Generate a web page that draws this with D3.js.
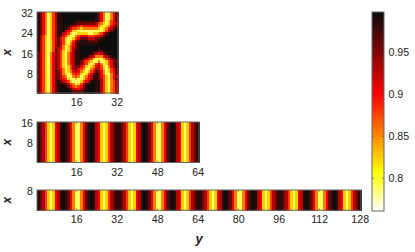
<!DOCTYPE html>
<html><head><meta charset="utf-8">
<script src="https://cdn.jsdelivr.net/npm/d3@7"></script>
<style>
html,body{margin:0;padding:0;background:#fff}
svg{display:block}
text{font-family:"Liberation Sans",Arial,sans-serif;fill:#222}
</style></head><body>
<svg id="c" width="415" height="252"></svg>
<script>
// Heat value of each encoded digit in the tables below
const levelValues = [0.997, 0.985, 0.96, 0.93, 0.905, 0.88, 0.855, 0.825, 0.79];

// 32 x 32 panel, top row is x = 32, bottom row is x = 1
const panel32 = [
"12468753110000000000000124688642",
"12468753110000000000000124688642",
"12468753110000000000000124688642",
"12468753110000011111111124687542",
"12468753110001112222222356787543",
"12468753110112334544444467876432",
"12468753110124556766666678764321",
"12468753111345778888888888753210",
"12468753113457887777887765321000",
"13578753124578865444555443210000",
"13578753245788754222333221100000",
"13578753235787532111222211000000",
"13578753235786421111111100000000",
"13578753246875421000000000000000",
"13578752346875321000000010000000",
"13578752357875311000001122100000",
"23578642357864311000012343210000",
"23578642357864311011234666432110",
"23578642357864311123457888754221",
"23578642357864311245678868875422",
"23578642357864311245787536875421",
"23578642357875322457876435786431",
"23578642346875324568865335787542",
"23578642246876434678754224687542",
"23578642246787545787542124688642",
"23578642235688656876431124578643",
"23578642234578878875431123578642",
"23578642123457888754310113578653",
"23578642111235687531100113578653",
"23578642100124565421000113578653",
"23578642100012344321000113578653",
"23578642100001222210000113578653"
];
// Stripe panels: one digit per y column, same in every x row
const stripes64 = "1235787431012468864210134787532112357874310124688642101347875321";
const stripes128 = "12357874310124688642101347875321123578743101246886421013478753211235787431012468864210134787532112357874310124688642101347875321";

const rows32 = 32, rows64 = 16, rows128 = 8;
const xTicks32 = [16, 32], yTicks32 = [8, 16, 24, 32];
const xTicks64 = [16, 32, 48, 64], yTicks64 = [8, 16];
const xTicks128 = [16, 32, 48, 64, 80, 96, 112, 128], yTicks128 = [8];
const barTicks = [0.8, 0.85, 0.9, 0.95];
const barDomain = [0.761, 0.9976];

const color = d3.scaleLinear()
  .domain([0.761, 0.808, 0.9, 0.9976])
  .range(["#ffffff", "#ffff00", "#ff0000", "#0c0c0c"])
  .clamp(true);

const svg = d3.select("#c");
const cell = 2.531, left = 37;
const frame = "#666";
const fs = "10.6px";

function panel(top, nCols, nRows, xt, yt, valueAt) {
  const w = nCols * cell, h = nRows * cell;
  const g = svg.append("g");
  const bx = d3.scaleBand().domain(d3.range(nCols)).range([left, left + w]);
  const by = d3.scaleBand().domain(d3.range(nRows)).range([top, top + h]);
  const cells = [];
  for (let r = 0; r < nRows; r++) for (let c = 0; c < nCols; c++) cells.push({r, c, v: valueAt(r, c)});
  g.selectAll("rect.cell").data(cells).join("rect").attr("class", "cell")
    .attr("x", d => bx(d.c)).attr("y", d => by(d.r))
    .attr("width", bx.bandwidth() + 0.6).attr("height", by.bandwidth() + 0.6)
    .attr("shape-rendering", "crispEdges")
    .attr("fill", d => color(d.v));
  const sx = d3.scaleLinear().domain([0.5, nCols + 0.5]).range([left, left + w]);
  const sy = d3.scaleLinear().domain([0.5, nRows + 0.5]).range([top + h, top]);
  const ax = g.append("g").attr("transform", `translate(0,${top + h})`)
    .call(d3.axisBottom(sx).tickValues(xt).tickSize(0).tickPadding(5.5));
  ax.select(".domain").remove();
  ax.selectAll("text").attr("font-size", fs).attr("fill", "#222");
  const ay = g.append("g").attr("transform", `translate(${left},0)`)
    .call(d3.axisLeft(sy).tickValues(yt).tickSize(0).tickPadding(4));
  ay.select(".domain").remove();
  ay.selectAll("text").attr("font-size", fs).attr("fill", "#222");
  // inward tick marks
  const tickCol = "#222";
  g.selectAll("line.tb").data(xt.flatMap(t => [[t, top + h, top + h - 2], [t, top, top + 2]])).join("line")
    .attr("class", "tb")
    .attr("x1", d => sx(d[0])).attr("x2", d => sx(d[0])).attr("y1", d => d[1]).attr("y2", d => d[2])
    .attr("stroke", tickCol).attr("stroke-width", 0.5);
  g.selectAll("line.lr").data(yt.flatMap(t => [[t, left, left + 2], [t, left + w, left + w - 2]])).join("line")
    .attr("class", "lr")
    .attr("y1", d => sy(d[0])).attr("y2", d => sy(d[0])).attr("x1", d => d[1]).attr("x2", d => d[2])
    .attr("stroke", tickCol).attr("stroke-width", 0.5);
  g.append("rect").attr("x", left).attr("y", top).attr("width", w).attr("height", h)
    .attr("fill", "none").attr("stroke", frame).attr("stroke-width", 1);
  svg.append("text").text("x")
    .attr("transform", `translate(11,${top + h / 2}) rotate(-90)`)
    .attr("text-anchor", "middle").attr("font-size", "12px")
    .attr("font-weight", "bold").attr("font-style", "italic").attr("fill", "#111");
}

panel(12, 32, rows32, xTicks32, yTicks32, (r, c) => levelValues[+panel32[r][c]]);
panel(122, 64, rows64, xTicks64, yTicks64, (r, c) => levelValues[+stripes64[c]]);
panel(190, 128, rows128, xTicks128, yTicks128, (r, c) => levelValues[+stripes128[c]]);

svg.append("text").text("y").attr("x", 199).attr("y", 243)
  .attr("text-anchor", "middle").attr("font-size", "13px")
  .attr("font-weight", "bold").attr("font-style", "italic").attr("fill", "#111");

// Colour bar
const barX = 372, barW = 12, barTop = 12, barBottom = 211;
const sb = d3.scaleLinear().domain(barDomain).range([barBottom, barTop]);
const nSteps = 64;
const steps = d3.range(nSteps).map(i => barDomain[0] + (barDomain[1] - barDomain[0]) * (i + 0.5) / nSteps);
const stepH = (barBottom - barTop) / nSteps;
svg.append("g").selectAll("rect").data(steps).join("rect")
  .attr("x", barX).attr("width", barW)
  .attr("y", d => sb(d) - stepH / 2).attr("height", stepH + 0.5)
  .attr("shape-rendering", "crispEdges")
  .attr("fill", d => color(d));
const ab = svg.append("g").attr("transform", `translate(${barX + barW},0)`)
  .call(d3.axisRight(sb).tickValues(barTicks).tickFormat(d3.format("~g")).tickSize(0).tickPadding(4.5));
ab.select(".domain").remove();
ab.selectAll("text").attr("font-size", fs).attr("fill", "#222");
svg.append("g").selectAll("line").data(barTicks.flatMap(t => [[t, barX, barX + 2], [t, barX + barW, barX + barW - 2]])).join("line")
  .attr("y1", d => sb(d[0])).attr("y2", d => sb(d[0])).attr("x1", d => d[1]).attr("x2", d => d[2])
  .attr("stroke", "#222").attr("stroke-width", 0.5);
svg.append("rect").attr("x", barX).attr("y", barTop).attr("width", barW).attr("height", barBottom - barTop)
  .attr("fill", "none").attr("stroke", frame).attr("stroke-width", 1);
</script>
</body></html>
